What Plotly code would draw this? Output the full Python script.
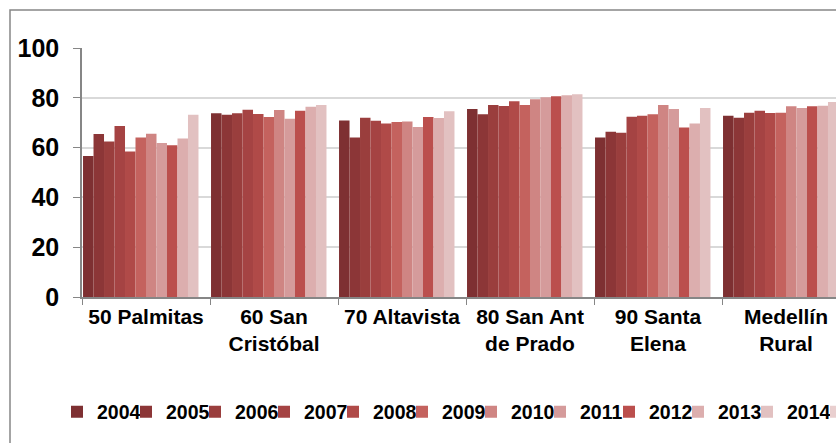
import plotly.graph_objects as go

categories = ["50 Palmitas", "60 San<br>Cristóbal", "70 Altavista", "80 San Ant<br>de Prado",
              "90 Santa<br>Elena", "Medellín<br>Rural"]
years = ["2004", "2005", "2006", "2007", "2008", "2009", "2010", "2011", "2012", "2013", "2014", "2015"]

v2004 = [56.6, 73.8, 70.9, 75.5, 64.1, 72.8]
v2005 = [65.5, 73.2, 64.1, 73.4, 66.4, 72.0]
v2006 = [62.5, 73.8, 72.0, 77.1, 66.0, 74.0]
v2007 = [68.7, 75.2, 70.8, 76.7, 72.4, 74.8]
v2008 = [58.4, 73.5, 69.7, 78.6, 72.8, 73.9]
v2009 = [64.1, 72.3, 70.3, 77.1, 73.4, 74.0]
v2010 = [65.6, 75.1, 70.5, 79.4, 77.1, 76.6]
v2011 = [61.8, 71.6, 68.3, 80.2, 75.5, 75.9]
v2012 = [60.9, 74.8, 72.3, 80.6, 68.1, 76.6]
v2013 = [63.7, 76.4, 71.9, 81.0, 69.7, 76.8]
v2014 = [73.2, 77.1, 74.6, 81.4, 75.9, 78.3]
v2015 = [None, None, None, None, None, None]
values = [v2004, v2005, v2006, v2007, v2008, v2009, v2010, v2011, v2012, v2013, v2014, v2015]

colors = ["#7e3032", "#8c3637", "#9a3e3d", "#a54343", "#b04a48", "#c4625e",
          "#cf8583", "#d59b9b", "#bb4f4d", "#dcaeae", "#e2c1c1", "#e9cfcf"]

FONT = "Liberation Sans, Arial, sans-serif"

fig = go.Figure()
for year, vals, col in zip(years, values, colors):
    fig.add_trace(go.Bar(
        x=categories,
        y=vals,
        name=year,
        marker=dict(color=col, line=dict(width=0)),
    ))

W, H = 960, 443
ML, MT, MB = 82, 48, 146
PW = 768
PH = H - MT - MB

fig.update_layout(
    width=W,
    height=H,
    margin=dict(l=ML, r=W - ML - PW, t=MT, b=MB),
    barmode="group",
    bargap=0.016,
    bargroupgap=0,
    plot_bgcolor="white",
    paper_bgcolor="white",
    font=dict(family=FONT, color="black"),
    xaxis=dict(
        type="category",
        tickson="boundaries",
        ticks="outside",
        ticklen=6,
        tickcolor="#868686",
        showline=True,
        linecolor="#868686",
        linewidth=1.5,
        tickfont=dict(size=21, family=FONT, weight="bold"),
        range=[-0.5, 5.5],
    ),
    yaxis=dict(
        range=[0, 100],
        tickvals=[0, 20, 40, 60, 80, 100],
        ticks="outside",
        ticklen=7,
        tickcolor="#868686",
        showline=True,
        linecolor="#868686",
        linewidth=1.5,
        gridcolor="#d9d9d9",
        gridwidth=1.5,
        zeroline=False,
        tickfont=dict(size=25, family=FONT, weight="bold"),
        ticklabelstandoff=9,
    ),
    legend=dict(
        orientation="h",
        x=(57 - ML) / PW,
        xanchor="left",
        y=-(412 - (MT + PH)) / PH,
        yanchor="middle",
        font=dict(size=19.5, family=FONT, weight="bold"),
        entrywidth=24,
        traceorder="normal",
        bgcolor="rgba(0,0,0,0)",
    ),
    shapes=[dict(
        type="rect",
        xref="paper", yref="paper",
        x0=(10 - ML) / PW, x1=(950 - ML) / PW,
        y0=-(470 - (MT + PH)) / PH, y1=((MT + PH) - 10) / PH,
        line=dict(color="#868686", width=1.5),
        fillcolor="rgba(0,0,0,0)",
        layer="below",
    )],
)

fig.write_html("out.html",
               config={"displayModeBar": False},
               post_script="document.body.style.margin='0';document.body.style.overflow='hidden';")
